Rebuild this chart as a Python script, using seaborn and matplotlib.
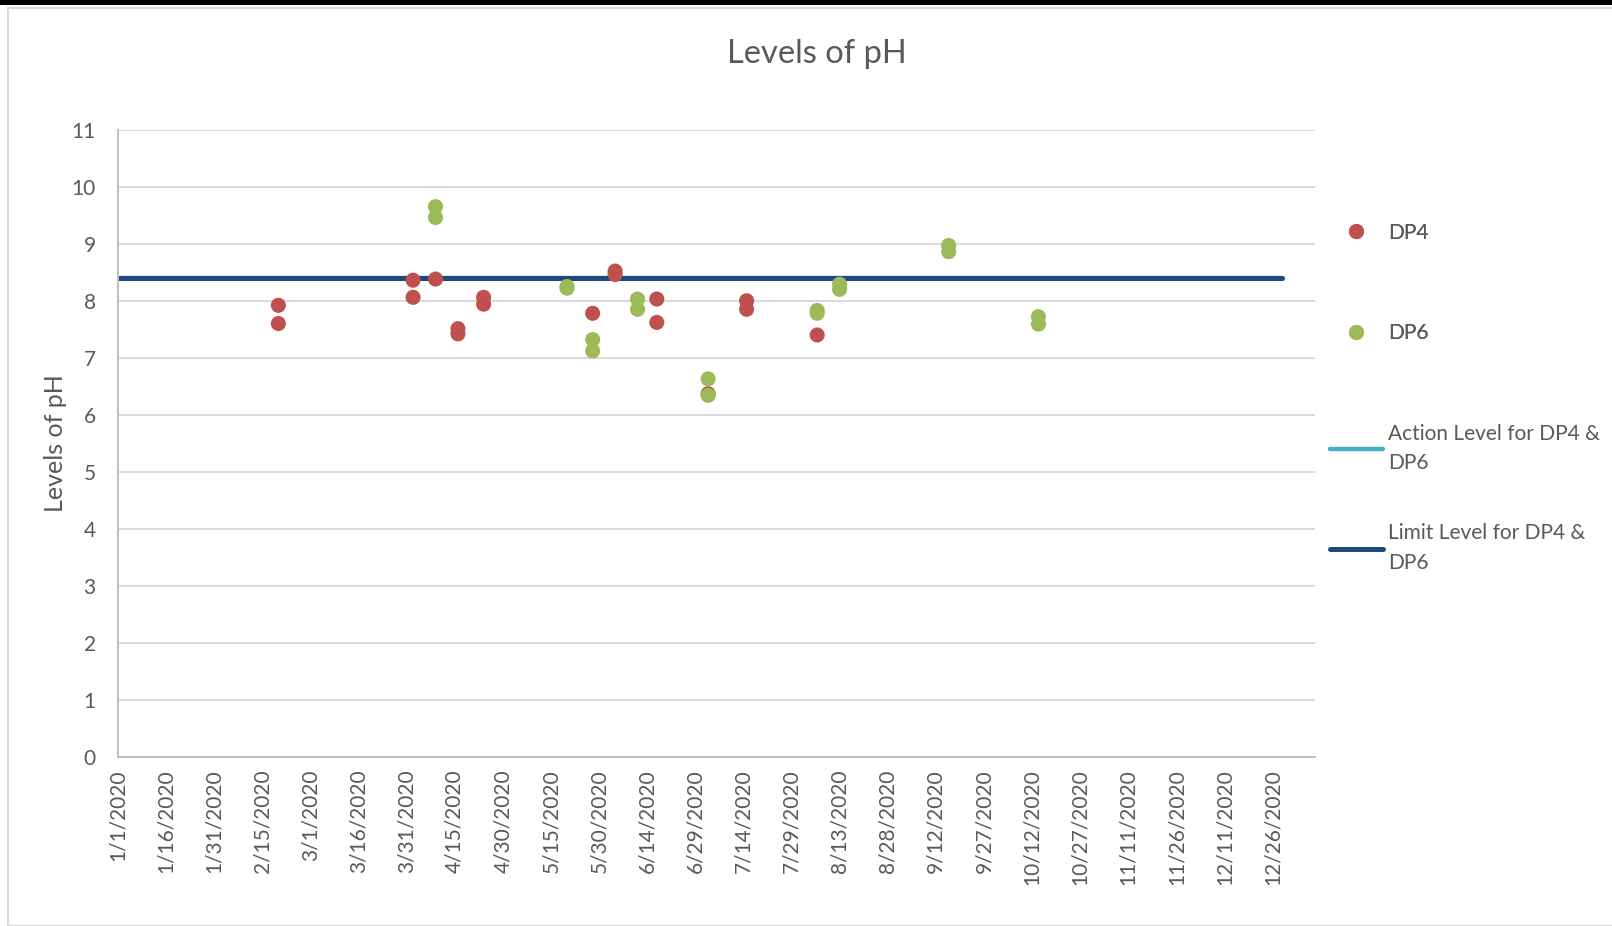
import pandas as pd
import matplotlib.pyplot as plt
from matplotlib.patches import Rectangle
import seaborn as sns

# pH readings
dp4_dates = ['2020-02-20', '2020-02-20', '2020-04-02', '2020-04-02', '2020-04-09',
             '2020-04-16', '2020-04-16', '2020-04-24', '2020-04-24', '2020-05-28',
             '2020-06-04', '2020-06-04', '2020-06-17', '2020-06-17', '2020-07-03',
             '2020-07-15', '2020-07-15', '2020-08-06']
dp4_ph = [7.92, 7.60, 8.36, 8.06, 8.38,
          7.51, 7.42, 8.06, 7.94, 7.78,
          8.52, 8.46, 8.03, 7.62, 6.37,
          8.00, 7.85, 7.40]

dp6_dates = ['2020-04-09', '2020-04-09', '2020-05-20', '2020-05-20', '2020-05-28',
             '2020-05-28', '2020-06-11', '2020-06-11', '2020-07-03', '2020-07-03',
             '2020-08-06', '2020-08-06', '2020-08-13', '2020-08-13', '2020-09-16',
             '2020-09-16', '2020-10-14', '2020-10-14']
dp6_ph = [9.65, 9.46, 8.25, 8.22, 7.32,
          7.12, 8.03, 7.85, 6.63, 6.34,
          7.83, 7.78, 8.29, 8.20, 8.97,
          8.86, 7.72, 7.59]

level_dates = ['2020-01-01', '2020-12-29']
action_level = [8.39, 8.39]
limit_level = [8.40, 8.40]

tick_dates = pd.date_range('2020-01-01', '2020-12-26', freq='15D')

pts = pd.DataFrame({
    'date': pd.to_datetime(dp4_dates + dp6_dates),
    'ph': dp4_ph + dp6_ph,
    'series': ['DP4'] * len(dp4_ph) + ['DP6'] * len(dp6_ph),
})
lvl = pd.DataFrame({
    'date': pd.to_datetime(level_dates * 2),
    'ph': action_level + limit_level,
    'series': ['Action Level for DP4 &\nDP6'] * 2 + ['Limit Level for DP4 &\nDP6'] * 2,
})

sns.set_style('white')
plt.rcParams['font.family'] = ['Lato', 'DejaVu Sans']
txt = '#595959'

fig = plt.figure(figsize=(16.12, 9.26), dpi=100)
ax = fig.add_axes([0.0732, 0.1825, 0.7426, 0.6775])

# reference lines
sns.lineplot(data=lvl, x='date', y='ph', hue='series', ax=ax,
             palette=['#4BACC6', '#1F497D'], size='series', sizes=[3.2, 3.6],
             legend=True, zorder=2)
# sample points
sns.scatterplot(data=pts, x='date', y='ph', hue='series', ax=ax,
                palette=['#C0504D', '#9BBB59'], s=118, linewidth=0,
                legend=True, zorder=3)

handles, labels = ax.get_legend_handles_labels()
ax.get_legend().remove()
hmap = dict(zip(labels, handles))

ax.set_ylim(0, 11)
ax.set_yticks(range(0, 12))
ax.set_xlim(pd.Timestamp('2020-01-01'), pd.Timestamp('2021-01-08 06:00'))
ax.set_xticks(tick_dates)
ax.set_xticklabels([f'{d.month}/{d.day}/{d.year}' for d in tick_dates],
                   rotation=90, fontsize=15, color=txt)
ax.tick_params(axis='y', labelsize=15, labelcolor=txt, length=0, pad=16)
ax.tick_params(axis='x', length=0, pad=9)
ax.yaxis.grid(True, color='#d9d9d9', linewidth=1.4)
ax.xaxis.grid(False)
for side in ['top', 'right']:
    ax.spines[side].set_visible(False)
for side in ['left', 'bottom']:
    ax.spines[side].set_color('#bfbfbf')
    ax.spines[side].set_linewidth(1.4)

ax.set_xlabel('')
ax.set_ylabel('Levels of pH', fontsize=18, color=txt)
ax.yaxis.set_label_coords(-0.043, 0.5)

fig.text(0.507, 0.942, 'Levels of pH', ha='center', va='center',
         fontsize=23.5, color=txt)

# legends on the right
pt_labels = ['DP4', 'DP6']
ln_labels = ['Action Level for DP4 &\nDP6', 'Limit Level for DP4 &\nDP6']
leg1 = fig.legend([hmap[l] for l in pt_labels], pt_labels, loc='center left',
                  bbox_to_anchor=(0.825, 0.6947), frameon=False, fontsize=15,
                  borderpad=0, borderaxespad=0, handlelength=2.55,
                  handletextpad=0.25, labelspacing=3.85, labelcolor=txt)
leg2 = fig.legend([hmap[l] for l in ln_labels], ln_labels, loc='center left',
                  bbox_to_anchor=(0.825, 0.4618), frameon=False, fontsize=15,
                  borderpad=0, borderaxespad=0, handlelength=2.55,
                  handletextpad=0.25, labelspacing=2.4, labelcolor=txt)
for t in leg2.get_texts():
    t.set_linespacing(1.6)
fig.add_artist(leg1)

# outer frame like the screenshot
fig.patches.append(Rectangle((0, 1 - 5 / 926), 1, 5 / 926, transform=fig.transFigure,
                             facecolor='black', edgecolor='none', zorder=0))
fig.patches.append(Rectangle((8 / 1612, 0), 1, 1 - 8 / 926, transform=fig.transFigure,
                             facecolor='none', edgecolor='#d9d9d9', linewidth=1.5, zorder=0))

fig.savefig('out.png', dpi=100)
